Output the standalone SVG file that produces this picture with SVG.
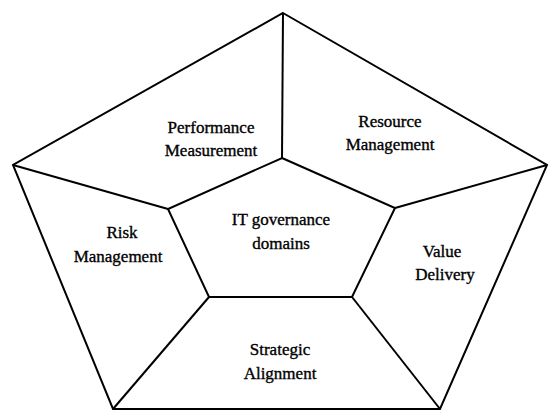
<svg xmlns="http://www.w3.org/2000/svg" width="549" height="412" viewBox="0 0 549 412">
<style>
.ln{fill:none;stroke:#000;stroke-width:2;stroke-linejoin:miter}
.t{font-family:"Liberation Serif","Times New Roman",serif;font-size:17px;fill:#000;stroke:#000;stroke-width:0.35;text-anchor:middle}
</style>
<rect width="549" height="412" fill="#fff"/>
<g id="connectors">
<polygon class="ln" points="283,13 547,165 440,409 113,409 13,165"/>
<line class="ln" x1="282" y1="158" x2="283" y2="13"/>
<line class="ln" x1="168" y1="209" x2="13" y2="165"/>
<line class="ln" x1="395" y1="208" x2="547" y2="165"/>
<line class="ln" x1="209" y1="297" x2="113" y2="409"/>
<line class="ln" x1="352" y1="297" x2="440" y2="409"/>
</g>
<g id="center">
<polygon class="ln" points="282,158 395,208 352,297 209,297 168,209"/>
<text class="t" x="281" y="225">IT governance</text>
<text class="t" x="281" y="249">domains</text>
</g>
<g id="performance">
<text class="t" x="211" y="133">Performance</text>
<text class="t" x="211" y="156">Measurement</text>
</g>
<g id="resource">
<text class="t" x="390" y="127">Resource</text>
<text class="t" x="390" y="150">Management</text>
</g>
<g id="risk">
<text class="t" x="122" y="238">Risk</text>
<text class="t" x="118" y="262">Management</text>
</g>
<g id="value">
<text class="t" x="442" y="257">Value</text>
<text class="t" x="445" y="280">Delivery</text>
</g>
<g id="strategic">
<text class="t" x="280" y="355">Strategic</text>
<text class="t" x="280" y="379">Alignment</text>
</g>
</svg>
